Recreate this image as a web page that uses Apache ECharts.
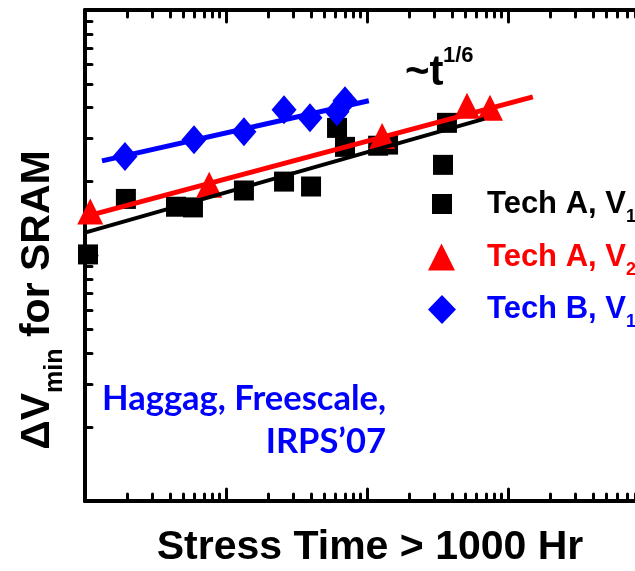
<!DOCTYPE html>
<html>
<head>
<meta charset="utf-8">
<script src="https://cdn.jsdelivr.net/npm/echarts@6/dist/echarts.min.js"></script>
<style>html,body{margin:0;padding:0;background:#fff}#main{width:635px;height:571px}</style>
</head>
<body>
<div id="main"></div>
<script>
// stress time (arb. hr) vs dVmin (arb. units), log-log
var techA_V1 = [[1.05, 10.1], [1.95, 17.0], [4.42, 15.8], [5.83, 15.7], [13.4, 18.4], [25.8, 20.0], [40.1, 19.1],
                [61.3, 33.1], [69.8, 27.7], [120, 28.0], [141, 28.3], [346, 23.4], [369, 34.7]];
var techA_V2 = [[1.09, 15.1], [7.6, 19.4], [128, 30.7], [512, 40.7], [745, 40.0]];
var techB_V1 = [[1.92, 25.3], [5.93, 29.6], [13.4, 31.9], [25.8, 39.2], [39.4, 36.4], [61.3, 38.5], [69.8, 42.7]];

// ~t^(1/6) fit lines (end points)
var fitA_V1 = [[1, 12.4], [676, 36.0]];
var fitA_V2 = [[1, 14.4], [1500, 44.3]];
var fitB_V1 = [[1.32, 24.3], [103, 42.7]];

var seriesNames = ['Tech A, V1', 'Tech A, V2', 'Tech B, V1'];

var chartDom = document.getElementById('main');
var myChart = echarts.init(chartDom);
var option;

function logAxis(pos, lo, hi, split) {
    return {
        type: 'log',
        logBase: 10,
        position: pos,
        min: lo,
        max: hi,
        splitNumber: split,
        axisLine: { show: true, lineStyle: { color: '#000', width: 4 } },
        axisTick: { show: true, inside: true, length: 12, lineStyle: { color: '#000', width: 3, cap: 'round' } },
        minorTick: { show: true, splitNumber: 9, length: 7, lineStyle: { color: '#000', width: 3, cap: 'round' } },
        axisLabel: { show: false },
        splitLine: { show: false },
        minorSplitLine: { show: false }
    };
}

var rich = {
    k: { fontFamily: 'Liberation Sans', fontWeight: 'bold', fontSize: 31, color: '#000', lineHeight: 44 },
    ks: { fontFamily: 'Liberation Sans', fontWeight: 'bold', fontSize: 18, color: '#000', lineHeight: 10, verticalAlign: 'bottom' },
    r: { fontFamily: 'Liberation Sans', fontWeight: 'bold', fontSize: 31, color: '#f00', lineHeight: 44 },
    rs: { fontFamily: 'Liberation Sans', fontWeight: 'bold', fontSize: 18, color: '#f00', lineHeight: 10, verticalAlign: 'bottom' },
    b: { fontFamily: 'Liberation Sans', fontWeight: 'bold', fontSize: 31, color: '#00f', lineHeight: 44 },
    bs: { fontFamily: 'Liberation Sans', fontWeight: 'bold', fontSize: 18, color: '#00f', lineHeight: 10, verticalAlign: 'bottom' }
};

function legendRow(name, icon, w, h, left, cy, pad, key) {
    return {
        left: left,
        top: cy - 15,
        padding: 0,
        itemWidth: w,
        itemHeight: h,
        selectedMode: false,
        data: [{ name: name, icon: icon }],
        formatter: function (n) {
            var m = n.match(/^(.*V)(\d)$/);
            return '{' + key + '|' + m[1] + '}{' + key + 's|' + m[2] + '}';
        },
        textStyle: { padding: [0, 0, 0, pad], rich: rich }
    };
}

option = {
    animation: false,
    backgroundColor: '#fff',
    grid: { left: 85, top: 10, width: 564, height: 491, outerBoundsMode: 'none' },
    xAxis: [logAxis('bottom', 1, 10000, 4), logAxis('top', 1, 10000, 4)],
    yAxis: [logAxis('left', 1, 100, 2)],
    legend: [
        legendRow(seriesNames[0], 'rect', 20, 20, 432, 203.5, 30, 'k'),
        legendRow(seriesNames[1], 'triangle', 27, 27, 428, 256.5, 27, 'r'),
        legendRow(seriesNames[2], 'diamond', 28, 29, 428, 309, 26, 'b')
    ],
    series: [
        {
            name: seriesNames[0], type: 'scatter', data: techA_V1,
            symbol: 'rect', symbolSize: 20, itemStyle: { color: '#000', opacity: 1 }
        },
        {
            name: 'fit A V1', type: 'line', data: fitA_V1, symbol: 'none',
            lineStyle: { color: '#000', width: 4 }
        },
        {
            name: 'fit A V2', type: 'line', data: fitA_V2, symbol: 'none',
            lineStyle: { color: '#f00', width: 5 }
        },
        {
            name: seriesNames[1], type: 'scatter', data: techA_V2,
            symbol: 'triangle', symbolSize: 26, itemStyle: { color: '#f00', opacity: 1 }
        },
        {
            name: 'fit B V1', type: 'line', data: fitB_V1, symbol: 'none',
            lineStyle: { color: '#00f', width: 5 }
        },
        {
            name: seriesNames[2], type: 'scatter', data: techB_V1,
            symbol: 'diamond', symbolSize: [25, 29], itemStyle: { color: '#00f', opacity: 1 }
        }
    ],
    graphic: [
        { type: 'text', x: 405, y: 73, style: { text: '~t', font: 'bold 42px "Liberation Sans"', fill: '#000', align: 'left', verticalAlign: 'middle' } },
        { type: 'text', x: 443, y: 56, style: { text: '1/6', font: 'bold 22px "Liberation Sans"', fill: '#000', align: 'left', verticalAlign: 'middle' } },
        { type: 'text', x: 386, y: 399, style: { text: 'Haggag, Freescale,', font: 'bold 34.5px Lato', fill: '#0000ff', align: 'right', verticalAlign: 'middle' } },
        { type: 'text', x: 386, y: 442, style: { text: 'IRPS\u201907', font: 'bold 34.5px Lato', fill: '#0000ff', align: 'right', verticalAlign: 'middle' } },
        { type: 'text', x: 370, y: 548, style: { text: 'Stress Time > 1000 Hr', font: 'bold 41px "Liberation Sans"', fill: '#000', align: 'center', verticalAlign: 'middle' } },
        {
            type: 'text', x: 38, y: 300, rotation: Math.PI / 2,
            style: {
                text: '{a|\u0394V}{s|min}{a| for SRAM}', align: 'center', verticalAlign: 'middle',
                rich: {
                    a: { fontFamily: 'Liberation Sans', fontWeight: 'bold', fontSize: 41, fill: '#000', lineHeight: 60 },
                    s: { fontFamily: 'Liberation Sans', fontWeight: 'bold', fontSize: 25, fill: '#000', lineHeight: 22, verticalAlign: 'bottom' }
                }
            }
        }
    ]
};

option && myChart.setOption(option);
</script>
</body>
</html>
